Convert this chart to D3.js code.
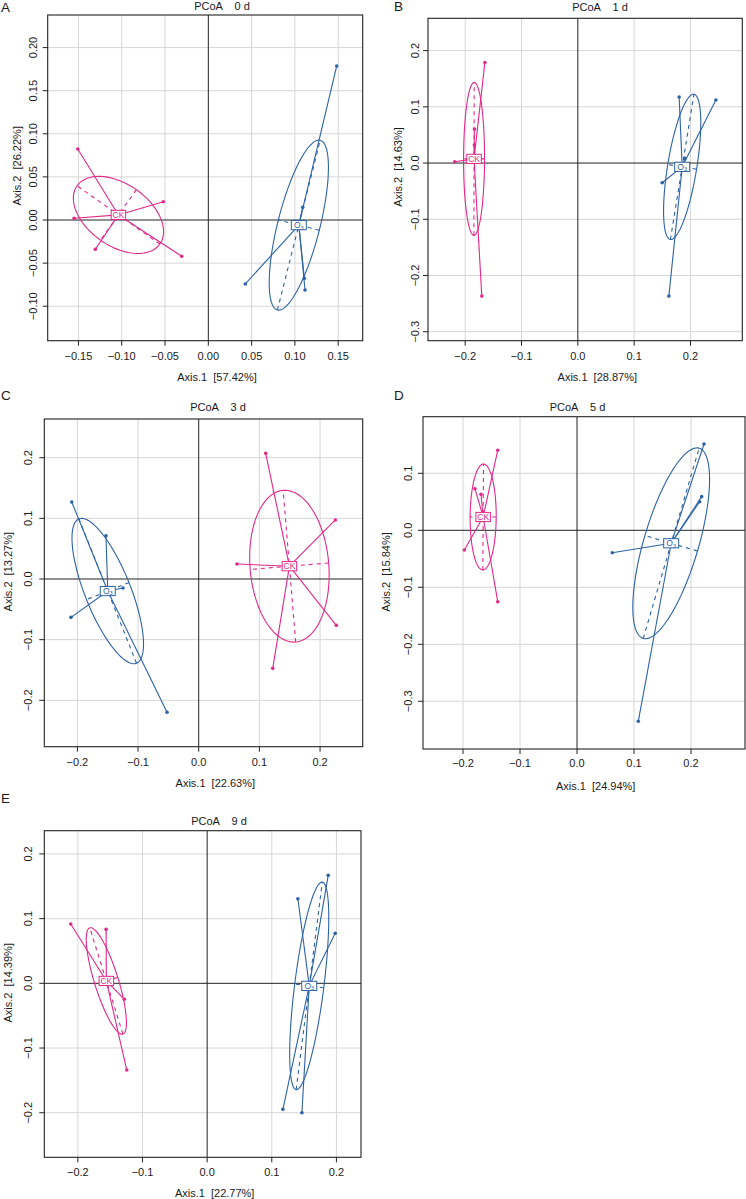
<!DOCTYPE html>
<html>
<head>
<meta charset="utf-8">
<script src="https://cdn.jsdelivr.net/npm/d3@7"></script>
<style>
body { margin: 0; background: #fff; }
text { font-family: "Liberation Sans", Arial, Helvetica, sans-serif; fill: #1a1a1a; }
</style>
</head>
<body>
<div id="chart"></div>
<script>
// Titles and axis labels of the five panels
var panelLetters = ["A", "B", "C", "D", "E"];
var panelTitles = ["PCoA    0 d", "PCoA    1 d", "PCoA    3 d", "PCoA    5 d", "PCoA    9 d"];
var axis1Labels = ["Axis.1  [57.42%]", "Axis.1  [28.87%]", "Axis.1  [22.63%]", "Axis.1  [24.94%]", "Axis.1  [22.77%]"];
var axis2Labels = ["Axis.2  [26.22%]", "Axis.2  [14.63%]", "Axis.2  [13.27%]", "Axis.2  [15.84%]", "Axis.2  [14.39%]"];

// Tick values
var xTicksA = [-0.15, -0.10, -0.05, 0.00, 0.05, 0.10, 0.15];
var yTicksA = [-0.10, -0.05, 0.00, 0.05, 0.10, 0.15, 0.20];
var xTicksB = [-0.2, -0.1, 0.0, 0.1, 0.2];
var yTicksB = [-0.3, -0.2, -0.1, 0.0, 0.1, 0.2];
var xTicksC = [-0.2, -0.1, 0.0, 0.1, 0.2];
var yTicksC = [-0.2, -0.1, 0.0, 0.1, 0.2];
var xTicksD = [-0.2, -0.1, 0.0, 0.1, 0.2];
var yTicksD = [-0.3, -0.2, -0.1, 0.0, 0.1];
var xTicksE = [-0.2, -0.1, 0.0, 0.1, 0.2];
var yTicksE = [-0.2, -0.1, 0.0, 0.1, 0.2];

// Axis limits
var xLimits = [[-0.1855, 0.1783], [-0.266, 0.292], [-0.2545, 0.2703], [-0.2702, 0.2947], [-0.2519, 0.238]];
var yLimits = [[-0.140, 0.2378], [-0.316, 0.2575], [-0.2765, 0.2638], [-0.3837, 0.1993], [-0.2689, 0.2359]];

// Sample scores [Axis.1, Axis.2]
var ckA = [[-0.1508, 0.0824], [-0.155, 0.002], [-0.1305, -0.034], [-0.052, 0.0212], [-0.0307, -0.0421]];
var o3A = [[0.1483, 0.1787], [0.109, 0.0147], [0.1109, -0.0677], [0.1117, -0.0812], [0.0427, -0.0742]];
var ckB = [[-0.165, 0.179], [-0.2185, 0.0023], [-0.1836, 0.0605], [-0.1836, 0.032], [-0.1705, -0.2367]];
var o3B = [[0.1799, 0.1174], [0.2451, 0.1121], [0.1497, -0.035], [0.1616, -0.2367], [0.19, 0.0084]];
var ckC = [[0.1104, 0.2072], [0.2252, 0.0973], [0.0631, 0.0247], [0.2268, -0.0764], [0.122, -0.1473]];
var o3C = [[-0.2093, 0.127], [-0.1528, 0.0714], [-0.1248, -0.0148], [-0.2105, -0.0632], [-0.0522, -0.2198]];
var ckD = [[-0.1391, 0.1404], [-0.179, 0.073], [-0.1684, 0.0632], [-0.1977, -0.0346], [-0.1391, -0.1253]];
var o3D = [[0.2228, 0.1514], [0.2187, 0.059], [0.2152, 0.0502], [0.0619, -0.0393], [0.1075, -0.3351]];
var ckE = [[-0.211, 0.0917], [-0.1563, 0.0834], [-0.128, -0.0247], [-0.1243, -0.134], [-0.160, 0.002]];
var o3E = [[0.1404, 0.1308], [0.1873, 0.1669], [0.1981, 0.0773], [0.1172, -0.1947], [0.1466, -0.2]];

var xTicks = [xTicksA, xTicksB, xTicksC, xTicksD, xTicksE];
var yTicks = [yTicksA, yTicksB, yTicksC, yTicksD, yTicksE];
var ckScores = [ckA, ckB, ckC, ckD, ckE];
var o3Scores = [o3A, o3B, o3C, o3D, o3E];
var decimals = [2, 1, 1, 1, 1];

var colCK = "#e2288a";
var colO3 = "#2c62a6";

// Panel placement on the page
var layout = [
  {left: 47.7, top: 15,    right: 362.7, bottom: 340.7,  titleX: 222,   titleY: 10,    xlabX: 217,   xlabY: 380.5,  ylabX: 17.3,  ylabY: 165.8, yTickX: 33.3,  xTickY: 360,    letterX: 1,   letterY: 12},
  {left: 428,  top: 18.3,  right: 742.3, bottom: 340.7,  titleX: 600,   titleY: 11,    xlabX: 597.3, xlabY: 380.5,  ylabX: 398,   ylabY: 167,   yTickX: 414.7, xTickY: 360,    letterX: 394, letterY: 11},
  {left: 44.3, top: 419,   right: 362.7, bottom: 746.7,  titleX: 218,   titleY: 411,   xlabX: 215.3, xlabY: 786.5,  ylabX: 8.3,   ylabY: 571.7, yTickX: 28.3,  xTickY: 765.7,  letterX: 1,   letterY: 400},
  {left: 423,  top: 416.7, right: 745,   bottom: 749,    titleX: 577.5, titleY: 411,   xlabX: 595.7, xlabY: 789.5,  ylabX: 386.3, ylabY: 572,   yTickX: 408,   xTickY: 767.3,  letterX: 394, letterY: 400},
  {left: 44.3, top: 830.7, right: 361,   bottom: 1157.3, titleX: 219,   titleY: 824.5, xlabX: 214.7, xlabY: 1197,   ylabX: 8.3,   ylabY: 982.8, yTickX: 28.3,  xTickY: 1175.7, letterX: 1,   letterY: 803}
];

var svg = d3.select("#chart").append("svg")
    .attr("width", 746)
    .attr("height", 1199);

function fmtTick(v, dec) {
  var s = Math.abs(v).toFixed(dec);
  return (v < -1e-9 ? "\u2212" : "") + s;
}

// centroid and ML covariance ellipse (sd ellipse) of a group
function groupStats(pts) {
  var n = pts.length;
  var mx = d3.mean(pts, function(d) { return d[0]; });
  var my = d3.mean(pts, function(d) { return d[1]; });
  var sxx = 0, syy = 0, sxy = 0;
  pts.forEach(function(d) {
    sxx += (d[0] - mx) * (d[0] - mx);
    syy += (d[1] - my) * (d[1] - my);
    sxy += (d[0] - mx) * (d[1] - my);
  });
  sxx /= n; syy /= n; sxy /= n;
  var tr = sxx + syy, det = sxx * syy - sxy * sxy;
  var disc = Math.sqrt(Math.max(tr * tr / 4 - det, 0));
  var l1 = tr / 2 + disc, l2 = tr / 2 - disc;
  var v1;
  if (Math.abs(sxy) > 1e-12) v1 = [sxy, l1 - sxx];
  else v1 = sxx >= syy ? [1, 0] : [0, 1];
  var len = Math.sqrt(v1[0] * v1[0] + v1[1] * v1[1]);
  v1 = [v1[0] / len, v1[1] / len];
  var v2 = [-v1[1], v1[0]];
  return {cx: mx, cy: my, a: Math.sqrt(Math.max(l1, 0)), b: Math.sqrt(Math.max(l2, 0)), v1: v1, v2: v2};
}

function drawPanel(i) {
  var L = layout[i];
  var x = d3.scaleLinear().domain(xLimits[i]).range([L.left, L.right]);
  var y = d3.scaleLinear().domain(yLimits[i]).range([L.bottom, L.top]);
  var g = svg.append("g").attr("class", "panel");

  g.append("clipPath").attr("id", "clip" + i)
    .append("rect")
    .attr("x", L.left).attr("y", L.top)
    .attr("width", L.right - L.left).attr("height", L.bottom - L.top);

  var plot = g.append("g").attr("clip-path", "url(#clip" + i + ")");

  // grid
  plot.selectAll("line.gx").data(xTicks[i].filter(function(v) { return Math.abs(v) > 1e-9; }))
    .enter().append("line")
    .attr("x1", function(d) { return x(d); }).attr("x2", function(d) { return x(d); })
    .attr("y1", L.top).attr("y2", L.bottom)
    .attr("stroke", "#d6d6d6").attr("stroke-width", 1);
  plot.selectAll("line.gy").data(yTicks[i].filter(function(v) { return Math.abs(v) > 1e-9; }))
    .enter().append("line")
    .attr("y1", function(d) { return y(d); }).attr("y2", function(d) { return y(d); })
    .attr("x1", L.left).attr("x2", L.right)
    .attr("stroke", "#d6d6d6").attr("stroke-width", 1);

  // zero lines
  plot.append("line").attr("x1", x(0)).attr("x2", x(0)).attr("y1", L.top).attr("y2", L.bottom)
    .attr("stroke", "#222").attr("stroke-width", 1);
  plot.append("line").attr("y1", y(0)).attr("y2", y(0)).attr("x1", L.left).attr("x2", L.right)
    .attr("stroke", "#222").attr("stroke-width", 1);

  var groups = [
    {name: "CK", pts: ckScores[i], col: colCK},
    {name: "O3", pts: o3Scores[i], col: colO3}
  ];

  groups.forEach(function(grp) {
    var st = groupStats(grp.pts);
    var ell = d3.range(0, 101).map(function(k) {
      var t = k / 100 * 2 * Math.PI;
      var px = st.cx + st.a * Math.cos(t) * st.v1[0] + st.b * Math.sin(t) * st.v2[0];
      var py = st.cy + st.a * Math.cos(t) * st.v1[1] + st.b * Math.sin(t) * st.v2[1];
      return [x(px), y(py)];
    });
    plot.append("path")
      .attr("d", d3.line()(ell))
      .attr("fill", "none").attr("stroke", grp.col).attr("stroke-width", 1.1);

    // dashed principal axes
    [[st.a, st.v1], [st.b, st.v2]].forEach(function(ax) {
      plot.append("line")
        .attr("x1", x(st.cx - ax[0] * ax[1][0])).attr("y1", y(st.cy - ax[0] * ax[1][1]))
        .attr("x2", x(st.cx + ax[0] * ax[1][0])).attr("y2", y(st.cy + ax[0] * ax[1][1]))
        .attr("stroke", grp.col).attr("stroke-width", 1.1)
        .attr("stroke-dasharray", "4,4");
    });

    // spider
    plot.selectAll(null).data(grp.pts).enter().append("line")
      .attr("x1", x(st.cx)).attr("y1", y(st.cy))
      .attr("x2", function(d) { return x(d[0]); })
      .attr("y2", function(d) { return y(d[1]); })
      .attr("stroke", grp.col).attr("stroke-width", 1.1);

    plot.selectAll(null).data(grp.pts).enter().append("circle")
      .attr("cx", function(d) { return x(d[0]); })
      .attr("cy", function(d) { return y(d[1]); })
      .attr("r", 1.8)
      .attr("fill", grp.col);

    grp.stats = st;
  });

  // centroid labels
  groups.forEach(function(grp) {
    var st = grp.stats;
    var lx = x(st.cx), ly = y(st.cy);
    var lab = plot.append("g");
    var w = grp.name === "CK" ? 14.5 : 15;
    lab.append("rect")
      .attr("x", lx - w / 2).attr("y", ly - 4.6)
      .attr("width", w).attr("height", 9.2)
      .attr("fill", "#fff").attr("stroke", grp.col).attr("stroke-width", 1);
    var t = lab.append("text")
      .attr("x", lx).attr("y", ly + 3.2)
      .attr("text-anchor", "middle")
      .style("font-size", "8.5px")
      .style("fill", grp.col);
    if (grp.name === "O3") {
      t.append("tspan").text("O");
      t.append("tspan").text("3").style("font-size", "5.5px").attr("dy", 1.2);
    } else {
      t.text(grp.name);
    }
  });

  // box
  g.append("rect")
    .attr("x", L.left).attr("y", L.top)
    .attr("width", L.right - L.left).attr("height", L.bottom - L.top)
    .attr("fill", "none").attr("stroke", "#222").attr("stroke-width", 1.1);

  // ticks
  g.selectAll(null).data(xTicks[i]).enter().append("line")
    .attr("x1", function(d) { return x(d); }).attr("x2", function(d) { return x(d); })
    .attr("y1", L.bottom).attr("y2", L.bottom + 5)
    .attr("stroke", "#222");
  g.selectAll(null).data(xTicks[i]).enter().append("text")
    .attr("x", function(d) { return x(d); })
    .attr("y", L.xTickY)
    .attr("text-anchor", "middle")
    .style("font-size", "11px")
    .text(function(d) { return fmtTick(d, decimals[i]); });

  g.selectAll(null).data(yTicks[i]).enter().append("line")
    .attr("y1", function(d) { return y(d); }).attr("y2", function(d) { return y(d); })
    .attr("x1", L.left).attr("x2", L.left - 5)
    .attr("stroke", "#222");
  g.selectAll(null).data(yTicks[i]).enter().append("text")
    .attr("transform", function(d) { return "translate(" + L.yTickX + "," + y(d) + ") rotate(-90)"; })
    .attr("text-anchor", "middle")
    .attr("dominant-baseline", "central")
    .style("font-size", "11px")
    .text(function(d) { return fmtTick(d, decimals[i]); });

  // titles and labels
  g.append("text")
    .attr("x", L.titleX).attr("y", L.titleY)
    .attr("text-anchor", "middle")
    .style("font-size", "11px")
    .style("white-space", "pre")
    .text(panelTitles[i]);
  g.append("text")
    .attr("x", L.xlabX).attr("y", L.xlabY)
    .attr("text-anchor", "middle")
    .style("font-size", "11px")
    .style("white-space", "pre")
    .text(axis1Labels[i]);
  g.append("text")
    .attr("transform", "translate(" + L.ylabX + "," + L.ylabY + ") rotate(-90)")
    .attr("text-anchor", "middle")
    .attr("dominant-baseline", "central")
    .style("font-size", "11px")
    .style("white-space", "pre")
    .text(axis2Labels[i]);
  g.append("text")
    .attr("x", L.letterX).attr("y", L.letterY)
    .style("font-size", "13.5px")
    .text(panelLetters[i]);
}

d3.range(5).forEach(drawPanel);
</script>
</body>
</html>
